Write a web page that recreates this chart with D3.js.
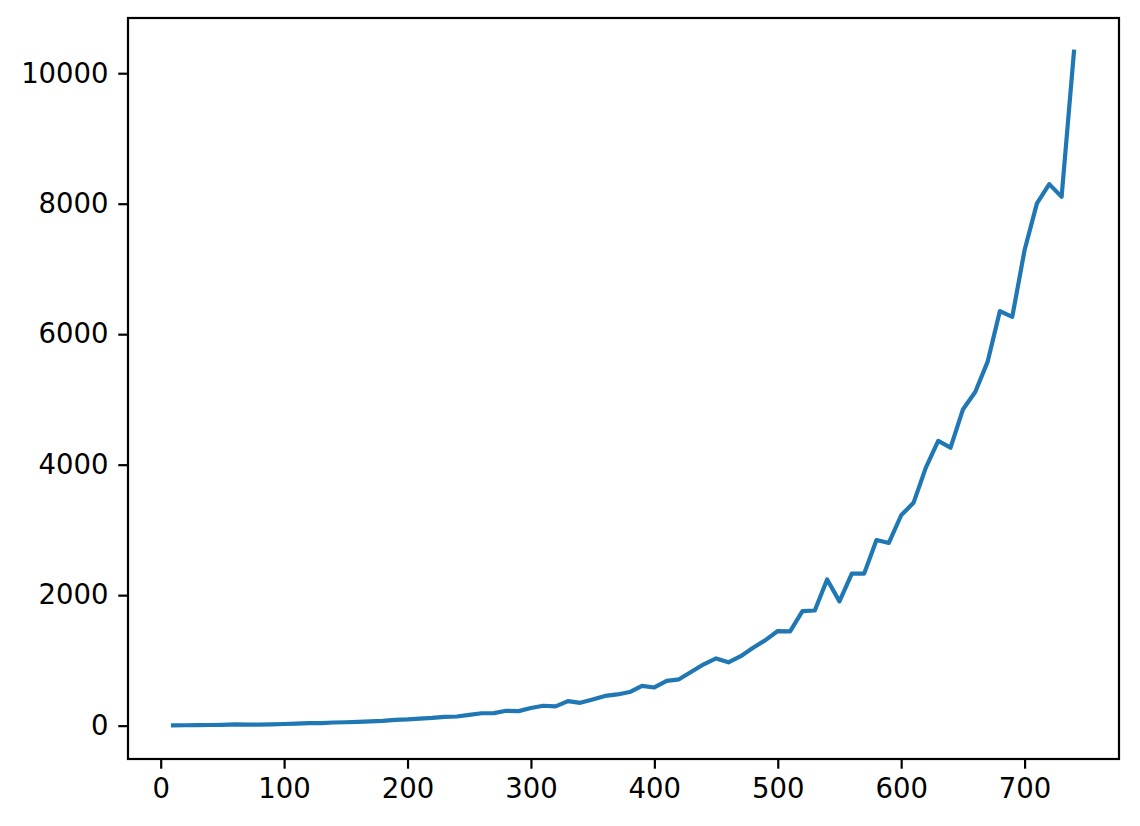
<!DOCTYPE html>
<html>
<head>
<meta charset="utf-8">
<title>line</title>
<script src="https://d3js.org/d3.v7.min.js"></script>
<style>
  body { margin:0; background:#fff; }
  svg { display:block; }
  .tick text { font-family: "DejaVu Sans", sans-serif; font-size: 27.5px; fill:#000; }
</style>
</head>
<body>
<script>
// x values (step 10) and the series
var xs = [10,20,30,40,50,60,70,80,90,100,110,120,130,140,150,160,170,180,190,200,
          210,220,230,240,250,260,270,280,290,300,310,320,330,340,350,360,370,380,390,400,
          410,420,430,440,450,460,470,480,490,500,510,520,530,540,550,560,570,580,590,600,
          610,620,630,640,650,660,670,680,690,700,710,720,730,740];
var ys = [5,6,8,10,12,18,17,15,20,25,32,38,40,48,52,58,65,72,88,95,
          108,118,135,140,165,190,192,228,222,270,305,295,375,350,400,455,478,515,610,585,
          685,710,825,940,1030,970,1065,1195,1310,1450,1445,1755,1765,2240,1905,2330,2330,2845,2800,3225,
          3415,3955,4365,4260,4845,5115,5575,6355,6265,7290,8005,8300,8105,10330];
var xTicks = [0,100,200,300,400,500,600,700];
var yTicks = [0,2000,4000,6000,8000,10000];

var W = 1140, H = 826;
// axes box (matplotlib style)  ※topはwindow.topとぶつかるので別名
var boxL = 128, boxR = 1119, boxT = 18, boxB = 759;

var svg = d3.select("body").append("svg").attr("width", W).attr("height", H);

// 5% margins like matplotlib autoscale
var xmin = d3.min(xs), xmax = d3.max(xs);
var ymin = d3.min(ys), ymax = d3.max(ys);
var xpad = (xmax - xmin) * 0.05, ypad = (ymax - ymin) * 0.05;
var x = d3.scaleLinear().domain([xmin - xpad, xmax + xpad]).range([boxL, boxR]);
var y = d3.scaleLinear().domain([ymin - ypad, ymax + ypad]).range([boxB, boxT]);

var data = xs.map(function(v, i){ return [v, ys[i]]; });

svg.append("path")
  .datum(data)
  .attr("fill", "none")
  .attr("stroke", "#1f77b4")
  .attr("stroke-width", 4.2)
  .attr("stroke-linejoin", "round")
  .attr("stroke-linecap", "square")
  .attr("d", d3.line().x(function(d){ return x(d[0]); }).y(function(d){ return y(d[1]); }));

// axes
var xAxis = svg.append("g")
  .attr("transform", "translate(0," + boxB + ")")
  .call(d3.axisBottom(x).tickValues(xTicks).tickFormat(d3.format("d")).tickSize(9.7).tickPadding(9.7));
var yAxis = svg.append("g")
  .attr("transform", "translate(" + boxL + ",0)")
  .call(d3.axisLeft(y).tickValues(yTicks).tickFormat(d3.format("d")).tickSize(9.7).tickPadding(9.7));
xAxis.select(".domain").remove();
yAxis.select(".domain").remove();
svg.selectAll(".tick line").attr("stroke", "#000").attr("stroke-width", 2.2);

// frame
svg.append("rect")
  .attr("x", boxL).attr("y", boxT)
  .attr("width", boxR - boxL).attr("height", boxB - boxT)
  .attr("fill", "none").attr("stroke", "#000").attr("stroke-width", 2.2);
</script>
</body>
</html>
